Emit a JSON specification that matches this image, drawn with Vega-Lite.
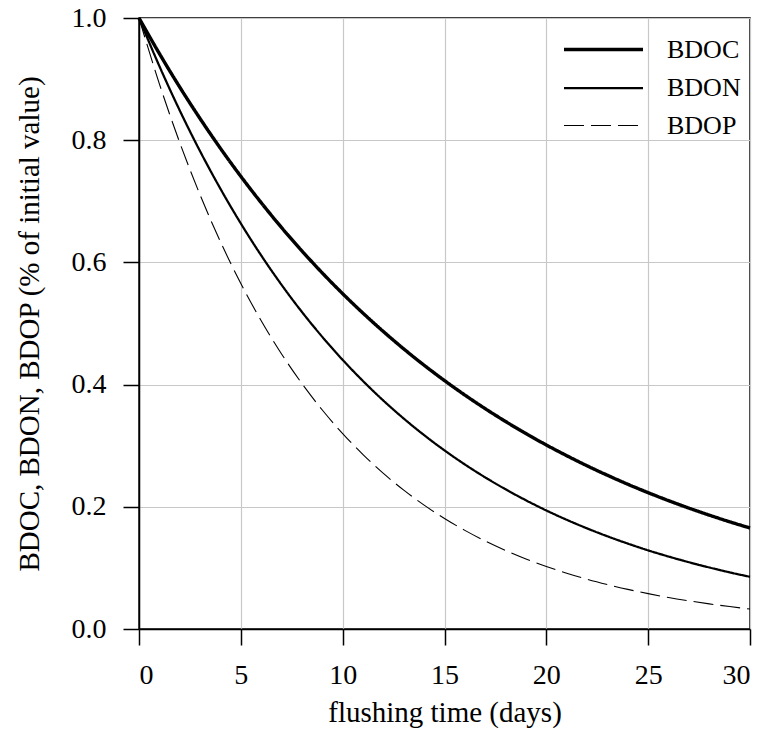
{
  "$schema": "https://vega.github.io/schema/vega-lite/v6.json",
  "width": 611,
  "height": 611,
  "autosize": {"type": "none"},
  "padding": {"left": 139, "top": 18, "right": 17, "bottom": 103},
  "background": "white",
  "config": {
    "font": "Liberation Serif",
    "view": {"stroke": "black", "strokeWidth": 1.5},
    "axis": {
      "labelFont": "Liberation Serif",
      "titleFont": "Liberation Serif",
      "labelFontSize": 28,
      "titleFontSize": 29,
      "titleFontWeight": "normal",
      "labelColor": "black",
      "titleColor": "black",
      "domainColor": "black",
      "domainWidth": 1.5,
      "tickColor": "black",
      "tickWidth": 1.5,
      "tickSize": 16,
      "gridColor": "#c8c8c8",
      "gridWidth": 1.2
    },
    "legend": {
      "labelFont": "Liberation Serif",
      "labelFontSize": 26,
      "labelColor": "black",
      "symbolType": "M-2,0H2",
      "symbolSize": 1560,
      "symbolStrokeColor": "black",
      "symbolFillColor": "transparent",
      "labelOffset": 42,
      "padding": 0,
      "rowPadding": 4
    }
  },
  "data": {
    "values": [
      {"t":0,"v":1,"s":"BDOC"},{"t":1,"v":0.9418,"s":"BDOC"},{"t":2,"v":0.8869,"s":"BDOC"},{"t":3,"v":0.8353,"s":"BDOC"},{"t":4,"v":0.7866,"s":"BDOC"},{"t":5,"v":0.7408,"s":"BDOC"},{"t":6,"v":0.6977,"s":"BDOC"},{"t":7,"v":0.657,"s":"BDOC"},{"t":8,"v":0.6188,"s":"BDOC"},{"t":9,"v":0.5827,"s":"BDOC"},{"t":10,"v":0.5488,"s":"BDOC"},{"t":11,"v":0.5169,"s":"BDOC"},{"t":12,"v":0.4868,"s":"BDOC"},{"t":13,"v":0.4584,"s":"BDOC"},{"t":14,"v":0.4317,"s":"BDOC"},{"t":15,"v":0.4066,"s":"BDOC"},{"t":16,"v":0.3829,"s":"BDOC"},{"t":17,"v":0.3606,"s":"BDOC"},{"t":18,"v":0.3396,"s":"BDOC"},{"t":19,"v":0.3198,"s":"BDOC"},{"t":20,"v":0.3012,"s":"BDOC"},{"t":21,"v":0.2837,"s":"BDOC"},{"t":22,"v":0.2671,"s":"BDOC"},{"t":23,"v":0.2516,"s":"BDOC"},{"t":24,"v":0.2369,"s":"BDOC"},{"t":25,"v":0.2231,"s":"BDOC"},{"t":26,"v":0.2101,"s":"BDOC"},{"t":27,"v":0.1979,"s":"BDOC"},{"t":28,"v":0.1864,"s":"BDOC"},{"t":29,"v":0.1755,"s":"BDOC"},{"t":30,"v":0.1653,"s":"BDOC"},
      {"t":0,"v":1,"s":"BDON"},{"t":1,"v":0.9213,"s":"BDON"},{"t":2,"v":0.8487,"s":"BDON"},{"t":3,"v":0.7819,"s":"BDON"},{"t":4,"v":0.7204,"s":"BDON"},{"t":5,"v":0.6637,"s":"BDON"},{"t":6,"v":0.6114,"s":"BDON"},{"t":7,"v":0.5633,"s":"BDON"},{"t":8,"v":0.5189,"s":"BDON"},{"t":9,"v":0.4781,"s":"BDON"},{"t":10,"v":0.4404,"s":"BDON"},{"t":11,"v":0.4058,"s":"BDON"},{"t":12,"v":0.3738,"s":"BDON"},{"t":13,"v":0.3444,"s":"BDON"},{"t":14,"v":0.3173,"s":"BDON"},{"t":15,"v":0.2923,"s":"BDON"},{"t":16,"v":0.2693,"s":"BDON"},{"t":17,"v":0.2481,"s":"BDON"},{"t":18,"v":0.2286,"s":"BDON"},{"t":19,"v":0.2106,"s":"BDON"},{"t":20,"v":0.194,"s":"BDON"},{"t":21,"v":0.1787,"s":"BDON"},{"t":22,"v":0.1647,"s":"BDON"},{"t":23,"v":0.1517,"s":"BDON"},{"t":24,"v":0.1398,"s":"BDON"},{"t":25,"v":0.1287,"s":"BDON"},{"t":26,"v":0.1186,"s":"BDON"},{"t":27,"v":0.1093,"s":"BDON"},{"t":28,"v":0.1007,"s":"BDON"},{"t":29,"v":0.0927,"s":"BDON"},{"t":30,"v":0.0854,"s":"BDON"},
      {"t":0,"v":1,"s":"BDOP"},{"t":1,"v":0.8923,"s":"BDOP"},{"t":2,"v":0.7961,"s":"BDOP"},{"t":3,"v":0.7103,"s":"BDOP"},{"t":4,"v":0.6338,"s":"BDOP"},{"t":5,"v":0.5655,"s":"BDOP"},{"t":6,"v":0.5046,"s":"BDOP"},{"t":7,"v":0.4502,"s":"BDOP"},{"t":8,"v":0.4017,"s":"BDOP"},{"t":9,"v":0.3584,"s":"BDOP"},{"t":10,"v":0.3198,"s":"BDOP"},{"t":11,"v":0.2854,"s":"BDOP"},{"t":12,"v":0.2546,"s":"BDOP"},{"t":13,"v":0.2272,"s":"BDOP"},{"t":14,"v":0.2027,"s":"BDOP"},{"t":15,"v":0.1809,"s":"BDOP"},{"t":16,"v":0.1614,"s":"BDOP"},{"t":17,"v":0.144,"s":"BDOP"},{"t":18,"v":0.1285,"s":"BDOP"},{"t":19,"v":0.1146,"s":"BDOP"},{"t":20,"v":0.1023,"s":"BDOP"},{"t":21,"v":0.0913,"s":"BDOP"},{"t":22,"v":0.0814,"s":"BDOP"},{"t":23,"v":0.0727,"s":"BDOP"},{"t":24,"v":0.0648,"s":"BDOP"},{"t":25,"v":0.0579,"s":"BDOP"},{"t":26,"v":0.0516,"s":"BDOP"},{"t":27,"v":0.0461,"s":"BDOP"},{"t":28,"v":0.0411,"s":"BDOP"},{"t":29,"v":0.0367,"s":"BDOP"},{"t":30,"v":0.0327,"s":"BDOP"}
    ]
  },
  "mark": {"type": "line", "color": "black", "interpolate": "monotone"},
  "encoding": {
    "x": {
      "field": "t", "type": "quantitative",
      "scale": {"domain": [0, 30], "nice": false},
      "axis": {"values": [0, 5, 10, 15, 20, 25, 30], "title": "flushing time (days)", "labelPadding": 16, "titlePadding": 9}
    },
    "y": {
      "field": "v", "type": "quantitative",
      "scale": {"domain": [0, 1], "nice": false},
      "axis": {"values": [0, 0.2, 0.4, 0.6, 0.8, 1.0], "format": ".1f", "title": "BDOC, BDON, BDOP (% of initial value)", "labelPadding": 17, "titlePadding": 27}
    },
    "strokeWidth": {
      "field": "s", "type": "nominal",
      "scale": {"domain": ["BDOC", "BDON", "BDOP"], "range": [3.4, 1.1, 1.1]},
      "legend": {"title": null, "orient": "none", "legendX": 443, "legendY": 10}
    },
    "strokeDash": {
      "field": "s", "type": "nominal",
      "scale": {"domain": ["BDOC", "BDON", "BDOP"], "range": [[1, 0], [1, 0], [20, 7]]},
      "legend": {"title": null, "orient": "none", "legendX": 443, "legendY": 10}
    }
  }
}
